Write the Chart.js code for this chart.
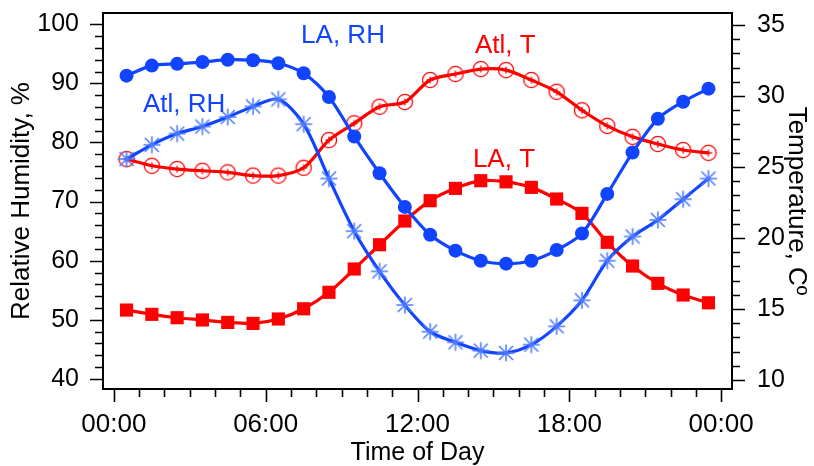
<!DOCTYPE html>
<html>
<head>
<meta charset="utf-8">
<script src="https://cdn.jsdelivr.net/npm/chart.js@4.4.1/dist/chart.umd.min.js"></script>
<style>
  html, body { margin: 0; padding: 0; background: #fff; }
  #wrap { width: 814px; height: 466px; }
</style>
</head>
<body>
<div id="wrap"><canvas id="chart" width="814" height="466"></canvas></div>
<script>
// hours of day (half-hour centres)
const hours = [0.5, 1.5, 2.5, 3.5, 4.5, 5.5, 6.5, 7.5, 8.5, 9.5, 10.5, 11.5,
               12.5, 13.5, 14.5, 15.5, 16.5, 17.5, 18.5, 19.5, 20.5, 21.5, 22.5, 23.5];
// relative humidity, %
const laRH  = [91.3, 93.0, 93.3, 93.6, 94.0, 93.9, 93.4, 91.7, 87.7, 81.0, 74.8, 69.1,
               64.4, 61.7, 60.0, 59.5, 60.0, 61.8, 64.6, 71.3, 78.3, 84.0, 86.9, 89.1];
const atlRH = [77.2, 79.6, 81.5, 82.7, 84.3, 86.1, 87.3, 83.1, 73.9, 65.0, 58.2, 52.5,
               48.0, 46.2, 44.8, 44.4, 45.8, 48.9, 53.3, 60.0, 64.1, 66.9, 70.4, 73.9];
// temperature, C
const atlT  = [25.56, 25.09, 24.86, 24.74, 24.63, 24.4, 24.4, 24.95, 26.9, 28.08, 29.25, 29.58,
               31.13, 31.55, 31.9, 31.83, 31.13, 30.3, 29.0, 27.9, 27.13, 26.62, 26.2, 26.0];
const laT   = [14.93, 14.63, 14.39, 14.23, 14.06, 13.99, 14.3, 15.02, 16.18, 17.82, 19.53, 21.2,
               22.63, 23.5, 24.04, 23.96, 23.57, 22.75, 21.74, 19.7, 18.03, 16.81, 15.99, 15.44];

const xTicks = [0, 6, 12, 18, 24];
const rhTicks = [40, 50, 60, 70, 80, 90, 100];
const tTicks = [10, 15, 20, 25, 30, 35];

const BLUE = '#1144ff';
const BLUE_LIGHT = '#4a78ff';
const RED = '#ff0000';
const FONT = '"Liberation Sans", Arial, Helvetica, sans-serif';

// series labels, anchored in data units
const seriesLabels = [
  { text: 'LA, RH',  x: 7.40,  y: 96.9, axis: 'y',  color: BLUE },
  { text: 'Atl, RH', x: 1.15,  y: 85.2, axis: 'y',  color: BLUE },
  { text: 'Atl, T',  x: 14.27, y: 33.0, axis: 'y2', color: RED },
  { text: 'LA, T',   x: 14.19, y: 25.0, axis: 'y2', color: RED }
];

const pts = arr => arr.map((v, i) => ({ x: hours[i], y: v }));

// custom markers
function asterisk() {
  const c = document.createElement('canvas');
  c.width = c.height = 20;
  const g = c.getContext('2d');
  g.strokeStyle = BLUE_LIGHT; g.lineWidth = 1.5;
  g.beginPath();
  g.moveTo(10, 1.5); g.lineTo(10, 18.5);
  g.moveTo(3, 3); g.lineTo(17, 17);
  g.moveTo(17, 3); g.lineTo(3, 17);
  g.moveTo(1.5, 10); g.lineTo(18.5, 10);
  g.stroke();
  return c;
}
function circlePlus() {
  const c = document.createElement('canvas');
  c.width = c.height = 20;
  const g = c.getContext('2d');
  g.strokeStyle = RED; g.lineWidth = 1.3;
  g.beginPath(); g.arc(10, 10, 7.6, 0, Math.PI * 2); g.stroke();
  g.beginPath();
  g.moveTo(10, 6.5); g.lineTo(10, 13.5);
  g.moveTo(6.5, 10); g.lineTo(13.5, 10);
  g.stroke();
  return c;
}

const noPad = s => { s.paddingTop = 0; s.paddingBottom = 0; s.paddingLeft = 0; s.paddingRight = 0; };

const framePlugin = {
  id: 'frame',
  afterDraw(chart) {
    const { ctx, chartArea: a, scales } = chart;
    ctx.save();
    ctx.strokeStyle = '#000';
    ctx.lineWidth = 2;
    ctx.strokeRect(a.left, a.top, a.right - a.left, a.bottom - a.top);
    ctx.lineWidth = 1.6;
    ctx.beginPath();
    for (let h = 0; h <= 24; h++) {
      const px = Math.round(scales.x.getPixelForValue(h)) + 0.5;
      const len = h % 6 === 0 ? 12 : 7;
      ctx.moveTo(px, a.bottom + 1); ctx.lineTo(px, a.bottom + 1 + len);
    }
    for (let v = 40; v <= 100; v += 2) {
      const py = Math.round(scales.y.getPixelForValue(v)) + 0.5;
      const len = v % 10 === 0 ? 12 : 7;
      ctx.moveTo(a.left - 1, py); ctx.lineTo(a.left - 1 - len, py);
    }
    for (let v = 10; v <= 35; v++) {
      const py = Math.round(scales.y2.getPixelForValue(v)) + 0.5;
      const len = v % 5 === 0 ? 12 : 7;
      ctx.moveTo(a.right + 1, py); ctx.lineTo(a.right + 1 + len, py);
    }
    ctx.stroke();
    ctx.restore();
  }
};

const labelPlugin = {
  id: 'seriesLabels',
  afterDatasetsDraw(chart) {
    const { ctx, scales } = chart;
    ctx.save();
    ctx.font = '26px ' + FONT;
    ctx.textAlign = 'left';
    ctx.textBaseline = 'alphabetic';
    seriesLabels.forEach(l => {
      ctx.fillStyle = l.color;
      ctx.fillText(l.text, scales.x.getPixelForValue(l.x), scales[l.axis].getPixelForValue(l.y));
    });
    ctx.restore();
  }
};

new Chart(document.getElementById('chart'), {
  type: 'line',
  data: {
    datasets: [
      { label: 'LA, RH', data: pts(laRH), yAxisID: 'y', borderColor: BLUE, backgroundColor: BLUE,
        borderWidth: 3.2, pointStyle: 'circle', pointRadius: 7, pointBorderWidth: 0, tension: 0.3 },
      { label: 'Atl, RH', data: pts(atlRH), yAxisID: 'y', borderColor: BLUE, backgroundColor: BLUE,
        borderWidth: 3.2, pointStyle: asterisk(), tension: 0.3 },
      { label: 'Atl, T', data: pts(atlT), yAxisID: 'y2', borderColor: RED, backgroundColor: RED,
        borderWidth: 3.2, pointStyle: circlePlus(), tension: 0.3 },
      { label: 'LA, T', data: pts(laT), yAxisID: 'y2', borderColor: RED, backgroundColor: RED,
        borderWidth: 3.2, pointStyle: 'rect', pointRadius: 9.3, pointBorderWidth: 0, tension: 0.3 }
    ]
  },
  options: {
    responsive: false,
    devicePixelRatio: 1,
    animation: false,
    events: [],
    layout: { padding: { top: 13, left: 0, right: 0, bottom: 0 } },
    plugins: { legend: { display: false }, tooltip: { enabled: false } },
    scales: {
      x: {
        type: 'linear', min: -0.43, max: 24.43,
        grid: { display: false }, border: { display: false },
        afterBuildTicks: s => { s.ticks = xTicks.map(v => ({ value: v })); },
        afterFit: s => { s.height = 77; noPad(s); },
        ticks: { padding: 12, color: '#000', font: { family: FONT, size: 26 },
                 callback: v => String(v % 24).padStart(2, '0') + ':00' },
        title: { display: true, text: 'Time of Day', color: '#000',
                 font: { family: FONT, size: 25, lineHeight: 1 }, padding: { top: -2, bottom: 0 } }
      },
      y: {
        position: 'left', min: 38.3, max: 101.9,
        grid: { display: false }, border: { display: false },
        afterBuildTicks: s => { s.ticks = rhTicks.map(v => ({ value: v })); },
        afterFit: s => { s.width = 103; noPad(s); },
        ticks: { padding: 16, color: '#000', font: { family: FONT, size: 25 } },
        title: { display: true, text: 'Relative Humidity, %', color: '#000',
                 font: { family: FONT, size: 26 }, padding: { top: 6, bottom: 0 } }
      },
      y2: {
        position: 'right', min: 9.37, max: 35.85,
        grid: { display: false }, border: { display: false },
        afterBuildTicks: s => { s.ticks = tTicks.map(v => ({ value: v })); },
        afterFit: s => { s.width = 82; noPad(s); },
        ticks: { padding: 17, color: '#000', font: { family: FONT, size: 25 } },
        title: { display: true, text: 'Temperature, Cº', color: '#000',
                 font: { family: FONT, size: 26 }, padding: { top: 2, bottom: 0 } }
      }
    }
  },
  plugins: [framePlugin, labelPlugin]
});
</script>
</body>
</html>
